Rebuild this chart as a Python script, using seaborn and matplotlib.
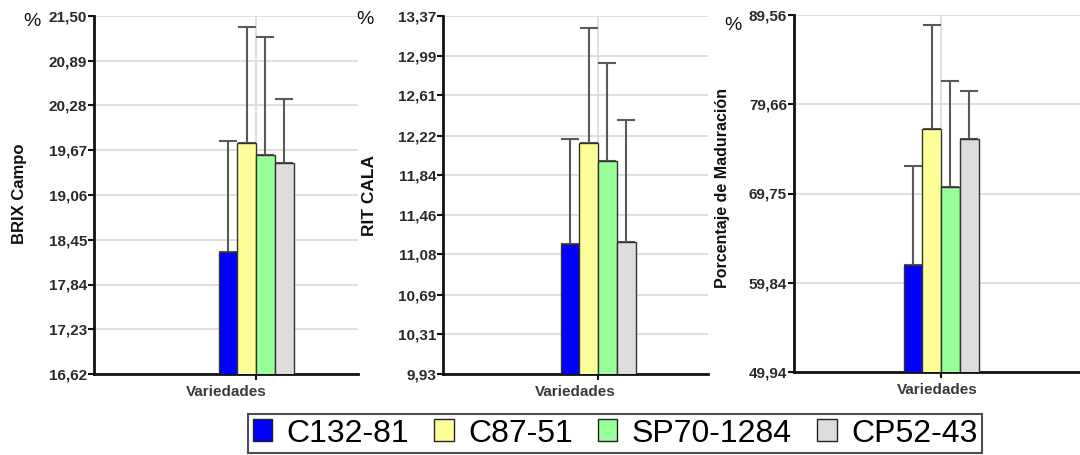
import matplotlib
matplotlib.use("Agg")
import matplotlib.pyplot as plt
import pandas as pd
import seaborn as sns
from matplotlib.patches import Patch

# Varieties and their fill colours
variedades = ["C132-81", "C87-51", "SP70-1284", "CP52-43"]
colores = ["#0000FF", "#FFFF99", "#99FF99", "#DDDDDD"]
categoria = "Variedades"

# Field Brix (mean and upper deviation)
brix = [18.28, 19.77, 19.61, 19.49]
brix_err = [1.52, 1.58, 1.60, 0.88]
brix_ticks = ["16,62", "17,23", "17,84", "18,45", "19,06", "19,67", "20,28", "20,89", "21,50"]

# RIT CALA
rit = [11.18, 12.15, 11.98, 11.20]
rit_err = [1.01, 1.10, 0.94, 1.17]
rit_ticks = ["9,93", "10,31", "10,69", "11,08", "11,46", "11,84", "12,22", "12,61", "12,99", "13,37"]

# Ripening percentage
madur = [61.81, 76.91, 70.44, 75.80]
madur_err = [11.03, 11.51, 11.79, 5.36]
madur_ticks = ["49,94", "59,84", "69,75", "79,66", "89,56"]

sns.set_theme(style="white")
plt.rcParams["font.family"] = ["Liberation Sans", "DejaVu Sans"]

W, H = 1080, 455
fig = plt.figure(figsize=(W / 100, H / 100), dpi=100)

# axes boxes in pixels: left, right, top, bottom, group centre,
# then y-label text, size and position, and the "%" mark position
paneles = [
    (94, 358, 16, 374, 256, brix, brix_err, brix_ticks, "BRIX Campo", 12, 20, 194, 32, 21),
    (443, 708, 16, 374, 598, rit, rit_err, rit_ticks, "RIT CALA", 12.5, 370, 196, 365, 19),
    (794, 1080, 15, 372, 941, madur, madur_err, madur_ticks, "Porcentaje de Maduración", 11.5, 722, 188, 733, 26),
]

group_px = 75.0
for (l, r, t, b, c, vals, errs, ticks, ylab, ylfs, ylx, yly, px, py) in paneles:
    ax = fig.add_axes([l / W, 1 - b / H, (r - l) / W, (b - t) / H])
    df = pd.DataFrame({"cat": [categoria] * len(variedades),
                       "variedad": variedades, "valor": vals})
    sns.barplot(data=df, x="cat", y="valor", hue="variedad",
                hue_order=variedades, palette=colores, width=0.8,
                errorbar=None, legend=False, edgecolor="#333333",
                linewidth=1.0, saturation=1, ax=ax, zorder=3)
    # upper-only deviation bars centred on each bar
    for cont, v, e in zip(ax.containers, vals, errs):
        p = cont.patches[0]
        xc = p.get_x() + p.get_width() / 2
        ax.errorbar([xc], [v], yerr=[[0], [e]], fmt="none",
                    ecolor="#5a5a5a", elinewidth=1.5, capsize=6.5,
                    capthick=1.5, zorder=2)
    tv = [float(s.replace(",", ".")) for s in ticks]
    ax.set_ylim(tv[0], tv[-1])
    ax.set_yticks(tv)
    ax.set_yticklabels(ticks, fontsize=11, fontweight="bold", color="#2a2a2a")
    wdata = 0.8 * (r - l) / group_px
    f = (c - l) / (r - l)
    ax.set_xlim(-f * wdata, (1 - f) * wdata)
    ax.set_xticks([0])
    ax.set_xticklabels([""])
    ax.set_xlabel(categoria, fontsize=11, fontweight="bold", color="#3a3a3a", labelpad=3)
    ax.set_ylabel("")
    ax.grid(True, color="#d9d9d9", linewidth=1.2, zorder=0)
    ax.set_axisbelow(True)
    for s in ("top", "right"):
        ax.spines[s].set_visible(False)
    for s in ("left", "bottom"):
        ax.spines[s].set_color("#111111")
        ax.spines[s].set_linewidth(2)
    ax.tick_params(axis="both", which="both", direction="out", length=4,
                   width=1.5, color="#111111", left=True, bottom=True, pad=1)
    fig.text(ylx / W, 1 - yly / H, ylab, rotation=90,
             fontsize=ylfs, fontweight="bold", ha="center", va="center", color="#111111")
    fig.text(px / W, 1 - py / H, "%", fontsize=14, ha="center", va="center", color="#111111")

handles = [Patch(facecolor=col, edgecolor="#222222", linewidth=1) for col in colores]
leg = fig.legend(handles, variedades, loc="center", bbox_to_anchor=(615 / W, 1 - 433.5 / H),
                 ncol=4, frameon=True, fancybox=False, labelcolor="#000000",
                 handlelength=0.6, handleheight=0.69, handletextpad=0.45,
                 columnspacing=0.8, borderpad=0.15, borderaxespad=0,
                 prop={"family": ["Liberation Sans", "DejaVu Sans"], "size": 23})
leg.get_frame().set_edgecolor("#222222")
leg.get_frame().set_linewidth(1.5)

fig.savefig("out.png", dpi=100)
